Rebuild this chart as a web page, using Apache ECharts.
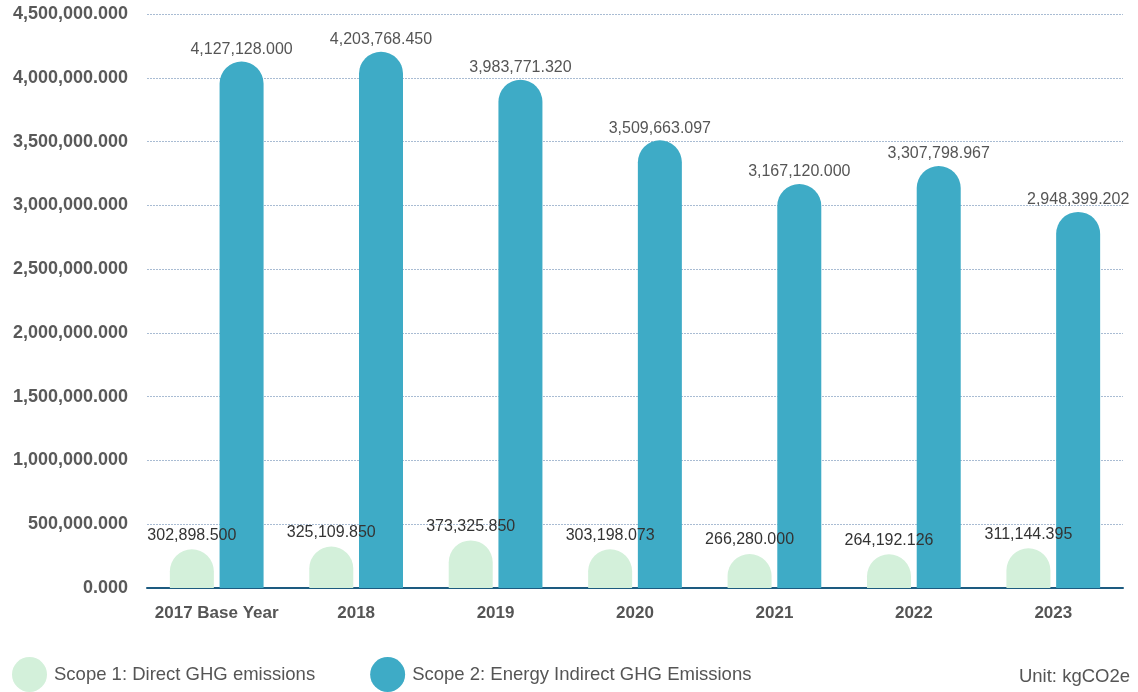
<!DOCTYPE html>
<html>
<head>
<meta charset="utf-8">
<style>
  html, body { margin: 0; padding: 0; background: #fff; }
  #chart { width: 1138px; height: 692px; }
</style>
<script src="https://cdn.jsdelivr.net/npm/echarts@6/dist/echarts.min.js"></script>
</head>
<body>
<div id="chart"></div>
<script>
// 年份（x轴）
const years = ['2017 Base Year', '2018', '2019', '2020', '2021', '2022', '2023']
// Scope 1 直接排放
const scope1 = [302898.5, 325109.85, 373325.85, 303198.073, 266280.0, 264192.126, 311144.395]
// Scope 2 间接排放
const scope2 = [4127128.0, 4203768.45, 3983771.32, 3509663.097, 3167120.0, 3307798.967, 2948399.202]
const seriesNames = ['Scope 1: Direct GHG emissions', 'Scope 2: Energy Indirect GHG Emissions']

const font = 'Liberation Sans, Arial, Helvetica, sans-serif'
// 千分位 + 三位小数
const fmt = (v) => Number(v).toLocaleString('en-US', { minimumFractionDigits: 3, maximumFractionDigits: 3 })

const chart = echarts.init(document.getElementById('chart'))
const option = {
  animation: false,
  textStyle: { fontFamily: font },
  grid: { left: 147, right: 15, top: 14, bottom: 104 },
  legend: {
    left: 7,
    top: 652,
    icon: 'circle',
    itemWidth: 35,
    itemHeight: 35,
    itemGap: 55,
    textStyle: { fontSize: 18.5, color: '#555', fontFamily: font, padding: [3, 0, 0, 2] },
    data: seriesNames
  },
  graphic: [{
    type: 'text',
    right: 8,
    top: 667,
    style: { text: 'Unit: kgCO2e', fontSize: 18.5, fill: '#555', fontFamily: font }
  }],
  xAxis: {
    type: 'category',
    data: years,
    axisTick: { show: false },
    axisLine: { lineStyle: { color: '#1d5b80', width: 2 } },
    axisLabel: { interval: 0, fontSize: 17, color: '#555', fontWeight: 'bold', margin: 17, fontFamily: font }
  },
  yAxis: {
    type: 'value',
    min: 0,
    max: 4500000,
    interval: 500000,
    axisLine: { show: false },
    axisTick: { show: false },
    splitLine: { lineStyle: { color: '#a9bcd3', type: [2, 1], width: 1 } },
    axisLabel: { fontSize: 18, color: '#595959', fontWeight: 'bold', margin: 19, formatter: (v) => fmt(v), fontFamily: font }
  },
  series: [
    {
      name: seriesNames[0],
      type: 'bar',
      data: scope1,
      barWidth: 44,
      barGap: '13%',
      itemStyle: { color: '#d3f0da', borderRadius: [22, 22, 0, 0] },
      label: { show: true, position: 'top', distance: 6, fontSize: 16, color: '#333', formatter: (p) => fmt(p.value), fontFamily: font },
      z: 3
    },
    {
      name: seriesNames[1],
      type: 'bar',
      data: scope2,
      barWidth: 44,
      itemStyle: { color: '#3eabc6', borderRadius: [22, 22, 0, 0] },
      label: { show: true, position: 'top', distance: 4, fontSize: 16, color: '#555', formatter: (p) => fmt(p.value), fontFamily: font },
      z: 2
    }
  ]
}
chart.setOption(option)
</script>
</body>
</html>
